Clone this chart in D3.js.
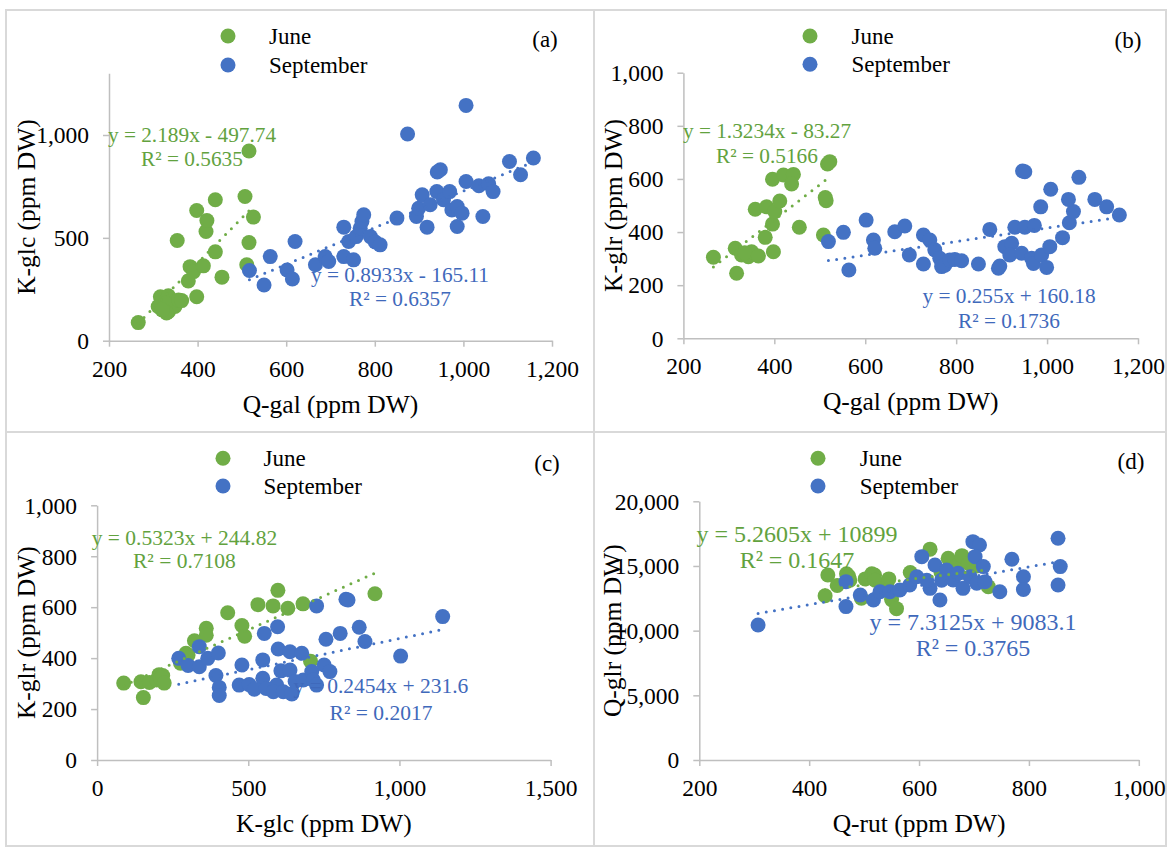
<!DOCTYPE html>
<html>
<head>
<meta charset="utf-8">
<script src="https://cdn.jsdelivr.net/npm/d3@7"></script>
<style>
  body { margin: 0; background: #fff; }
  svg { display: block; }
</style>
</head>
<body>
<svg id="chart" width="1167" height="847"></svg>
<script>
// ---- data ----
const SERIES = ['June', 'September'];
const COLORS = ['#70ad47', '#4472c4'];
const TEXT_COLORS = ['#62a23e', '#3f69bb'];

// (a) Q-gal vs K-glc
const juneA = [[266,88],[316,214],[334,218],[311,166],[334,141],[349,166],[327,182],[357,198],[330,135],[320,150],
  [364,195],[398,214],[379,290],[383,360],[391,336],[413,364],[455,309],[440,432],[354,487],[419,531],[421,584],
  [398,633],[440,685],[507,701],[516,922],[526,601],[516,477],[511,369]];
const septA = [[517,341],[550,271],[564,409],[602,344],[614,300],[620,482],[666,369],[688,409],[696,385],[730,409],
  [752,393],[730,552],[741,482],[758,506],[767,547],[771,579],[775,612],[790,506],[801,480],[812,466],[850,596],
  [874,1005],[894,604],[899,644],[907,709],[918,552],[925,661],[940,725],[948,831],[941,820],[955,685],[969,725],
  [974,636],[986,652],[997,620],[986,555],[1006,1144],[1006,774],[1035,753],[1044,604],[1057,763],[1067,725],
  [1104,871],[1129,807],[1158,888]];

// (b) Q-gal vs K-glr
const juneB = [[266,305],[317,245],[314,339],[328,314],[343,307],[350,326],[335,322],[365,310],[398,326],[380,380],
  [396,430],[358,486],[383,495],[401,477],[412,517],[396,599],[420,615],[442,617],[438,581],[455,418],[508,389],
  [514,518],[512,530],[517,656],[522,665]];
const septB = [[519,364],[552,399],[564,257],[602,445],[618,370],[621,339],[665,401],[687,423],[697,314],[728,389],
  [742,370],[728,280],[753,333],[764,301],[768,270],[775,275],[786,295],[797,297],[812,292],[849,280],[874,410],
  [896,272],[893,264],[907,345],[922,358],[918,314],[929,418],[944,320],[951,418],[972,425],[966,301],[970,282],
  [988,314],[999,267],[1006,345],[986,495],[1008,561],[951,627],[946,630],[1034,379],[1049,435],[1058,477],
  [1047,523],[1070,606],[1105,523],[1131,495],[1159,464]];

// (c) K-glc vs K-glr
const juneC = [[88,302],[145,307],[153,245],[173,304],[197,314],[205,335],[210,322],[217,332],[222,302],[276,380],
  [294,419],[301,412],[322,468],[361,517],[361,490],[432,578],[479,528],[488,486],[532,610],[582,605],[598,666],
  [631,596],[681,613],[706,388],[919,653]];
const septC = [[270,399],[301,371],[338,445],[338,366],[366,399],[401,420],[393,332],[404,285],[404,253],[479,373],
  [470,294],[503,296],[520,278],[548,393],[548,321],[559,281],[553,497],[597,523],[599,436],[594,294],[583,268],
  [616,268],[608,350],[638,353],[638,425],[677,419],[644,259],[655,308],[682,314],[710,347],[715,314],[726,294],
  [726,605],[751,373],[770,347],[757,474],[804,497],[823,631],[830,628],[867,521],[886,465],[1004,408],[1143,563]];

// (d) Q-rut vs Q-glr
const juneD = [[429,12700],[434,14300],[451,13500],[468,14400],[474,13900],[472,14200],[495,12500],[502,14000],
  [514,14400],[519,14300],[520,13900],[541,13400],[545,14000],[550,12400],[559,11700],[584,14500],[620,16300],
  [653,15600],[668,15000],[678,15800],[705,15000],[726,13400],[640,14500],[690,15200]];
const septD = [[307,10440],[467,13790],[467,11860],[493,12760],[517,12370],[529,13010],[547,13010],[565,13140],
  [583,13530],[596,14170],[605,15720],[620,13270],[629,15080],[638,12370],[650,14690],[662,13920],[680,13270],
  [671,14430],[693,14170],[698,16880],[710,16620],[702,15720],[717,14950],[705,13660],[720,13790],[747,13010],
  [769,15520],[790,14170],[790,13190],[853,17140],[857,14950],[853,13530],[614,13900],[641,13900]];

// trendline coefficients [slope, intercept] and their labels
const trendJuneA = [2.189, -497.74],  trendSeptA = [0.8933, -165.11];
const trendJuneB = [1.3234, -83.27],  trendSeptB = [0.255, 160.18];
const trendJuneC = [0.5323, 244.82],  trendSeptC = [0.2454, 231.6];
const trendJuneD = [5.2605, 10899],   trendSeptD = [7.3125, 9083.1];
const eqJuneA = ['y = 2.189x - 497.74', 'R² = 0.5635'],  eqSeptA = ['y = 0.8933x - 165.11', 'R² = 0.6357'];
const eqJuneB = ['y = 1.3234x - 83.27', 'R² = 0.5166'],  eqSeptB = ['y = 0.255x + 160.18', 'R² = 0.1736'];
const eqJuneC = ['y = 0.5323x + 244.82', 'R² = 0.7108'], eqSeptC = ['y = 0.2454x + 231.6', 'R² = 0.2017'];
const eqJuneD = ['y = 5.2605x + 10899', 'R² = 0.1647'],  eqSeptD = ['y = 7.3125x + 9083.1', 'R² = 0.3765'];

const ticksQgal = [200, 400, 600, 800, 1000, 1200];
const ticksKglcA = [0, 500, 1000];
const ticksKglr = [0, 200, 400, 600, 800, 1000];
const ticksKglcC = [0, 500, 1000, 1500];
const ticksQrut = [200, 400, 600, 800, 1000];
const ticksQglr = [0, 5000, 10000, 15000, 20000];

// ---- layout ----
const FONT = '"Liberation Serif", "Times New Roman", Times, serif';
const AXIS_GRAY = '#bfbfbf';

const panels = [
  { tag: '(a)', box: [6, 10, 594, 432], plot: { l: 109, r: 552, t: 73.3, b: 340.7 },
    xDom: [200, 1200], yDom: [0, 1300], xt: ticksQgal, yt: ticksKglcA,
    xTitle: 'Q-gal (ppm DW)', yTitle: 'K-glc (ppm DW)', xTitleY: 413, yTitleX: 35,
    legX: 228, legY: [36, 65], legTextX: 269, tagX: 545, tagY: 47,
    series: [juneA, septA], trends: [trendJuneA, trendSeptA], eqs: [eqJuneA, eqSeptA],
    eqPos: [[192, 141.7, 165.7], [400, 282, 306]], eqSize: 21.3 },
  { tag: '(b)', box: [594, 10, 1166, 432], plot: { l: 683.4, r: 1138, t: 72.7, b: 338.3 },
    xDom: [200, 1200], yDom: [0, 1000], xt: ticksQgal, yt: ticksKglr,
    xTitle: 'Q-gal (ppm DW)', yTitle: 'K-glr (ppm DW)', xTitleY: 410, yTitleX: 622,
    legX: 810, legY: [36, 64.3], legTextX: 851.5, tagX: 1128, tagY: 48,
    series: [juneB, septB], trends: [trendJuneB, trendSeptB], eqs: [eqJuneB, eqSeptB],
    eqPos: [[767, 138.3, 163.3], [1009, 303.3, 328.3]], eqSize: 21.3 },
  { tag: '(c)', box: [6, 432, 594, 846], plot: { l: 97.1, r: 550.6, t: 505.3, b: 760 },
    xDom: [0, 1500], yDom: [0, 1000], xt: ticksKglcC, yt: ticksKglr,
    xTitle: 'K-glc (ppm DW)', yTitle: 'K-glr (ppm DW)', xTitleY: 832, yTitleX: 35,
    legX: 223, legY: [458.3, 486], legTextX: 263.5, tagX: 547, tagY: 471,
    series: [juneC, septC], trends: [trendJuneC, trendSeptC], eqs: [eqJuneC, eqSeptC],
    eqPos: [[184.4, 544.5, 568.3], [381, 693.3, 720]], eqSize: 21.5 },
  { tag: '(d)', box: [594, 432, 1166, 846], plot: { l: 699.3, r: 1138.8, t: 501.3, b: 760 },
    xDom: [200, 1000], yDom: [0, 20000], xt: ticksQrut, yt: ticksQglr,
    xTitle: 'Q-rut (ppm DW)', yTitle: 'Q-glr (ppm DW)', xTitleY: 832, yTitleX: 621,
    legX: 818, legY: [458.3, 486], legTextX: 859.7, tagX: 1131, tagY: 469,
    series: [juneD, septD], trends: [trendJuneD, trendSeptD], eqs: [eqJuneD, eqSeptD],
    eqPos: [[797, 541.7, 567.7], [973, 630, 655.7]], eqSize: 24 },
];

const svg = d3.select('#chart');
svg.append('rect').attr('width', 1167).attr('height', 847).attr('fill', '#fff');

const fmt = d3.format(',');

panels.forEach(p => {
  const g = svg.append('g');
  const [bx0, by0, bx1, by1] = p.box;

  // panel frame
  g.append('rect')
    .attr('x', bx0).attr('y', by0)
    .attr('width', bx1 - bx0).attr('height', by1 - by0)
    .attr('fill', 'none').attr('stroke', '#d9d9d9').attr('stroke-width', 2);

  const x = d3.scaleLinear().domain(p.xDom).range([p.plot.l, p.plot.r]);
  const y = d3.scaleLinear().domain(p.yDom).range([p.plot.b, p.plot.t]);

  // axes
  const xAx = g.append('g').attr('transform', `translate(0,${p.plot.b})`)
    .call(d3.axisBottom(x).tickValues(p.xt).tickSize(6).tickSizeOuter(0).tickFormat(fmt));
  const yAx = g.append('g').attr('transform', `translate(${p.plot.l},0)`)
    .call(d3.axisLeft(y).tickValues(p.yt).tickSize(6).tickSizeOuter(0).tickFormat(fmt));

  [xAx, yAx].forEach(ax => {
    ax.select('.domain').attr('stroke', AXIS_GRAY).attr('stroke-width', 1.5);
    ax.selectAll('.tick line').attr('stroke', AXIS_GRAY).attr('stroke-width', 1.5);
    ax.selectAll('.tick text')
      .attr('fill', '#000').style('font-family', FONT).style('font-size', '23.5px');
  });
  xAx.selectAll('.tick text').attr('y', 36).attr('dy', null);
  yAx.selectAll('.tick text').attr('x', -20).attr('dy', '0.33em');

  // axis titles
  g.append('text')
    .attr('x', (p.plot.l + p.plot.r) / 2).attr('y', p.xTitleY)
    .attr('text-anchor', 'middle')
    .style('font-family', FONT).style('font-size', '25.5px').attr('fill', '#000')
    .text(p.xTitle);
  g.append('text')
    .attr('transform', `translate(${p.yTitleX},${(p.plot.t + p.plot.b) / 2}) rotate(-90)`)
    .attr('text-anchor', 'middle')
    .style('font-family', FONT).style('font-size', '25.5px').attr('fill', '#000')
    .text(p.yTitle);

  // markers: June first, September on top
  p.series.forEach((pts, si) => {
    g.append('g').selectAll('circle')
      .data(pts)
      .join('circle')
      .attr('cx', d => x(d[0]))
      .attr('cy', d => y(d[1]))
      .attr('r', 7.5)
      .attr('fill', COLORS[si]);
  });

  // dotted linear trendlines over the data range
  p.trends.forEach((tr, si) => {
    const [lo, hi] = d3.extent(p.series[si], d => d[0]);
    g.append('line')
      .attr('x1', x(lo)).attr('y1', y(tr[0] * lo + tr[1]))
      .attr('x2', x(hi)).attr('y2', y(tr[0] * hi + tr[1]))
      .attr('stroke', COLORS[si])
      .attr('stroke-width', 3)
      .attr('stroke-linecap', 'round')
      .attr('stroke-dasharray', '0 8.3');
  });

  // equation labels
  p.eqs.forEach((lines, si) => {
    const [cx, y1, y2] = p.eqPos[si];
    [y1, y2].forEach((yy, li) => {
      g.append('text')
        .attr('x', cx).attr('y', yy)
        .attr('text-anchor', 'middle')
        .style('font-family', FONT).style('font-size', p.eqSize + 'px')
        .attr('fill', TEXT_COLORS[si])
        .text(lines[li]);
    });
  });

  // legend
  SERIES.forEach((name, si) => {
    g.append('circle')
      .attr('cx', p.legX).attr('cy', p.legY[si]).attr('r', 7.5)
      .attr('fill', COLORS[si]);
    g.append('text')
      .attr('x', p.legTextX).attr('y', p.legY[si] + 7.5)
      .style('font-family', FONT).style('font-size', '23px').attr('fill', '#000')
      .text(name);
  });

  // panel tag
  g.append('text')
    .attr('x', p.tagX).attr('y', p.tagY)
    .attr('text-anchor', 'middle')
    .style('font-family', FONT).style('font-size', '23px').attr('fill', '#000')
    .text(p.tag);
});
</script>
</body>
</html>
